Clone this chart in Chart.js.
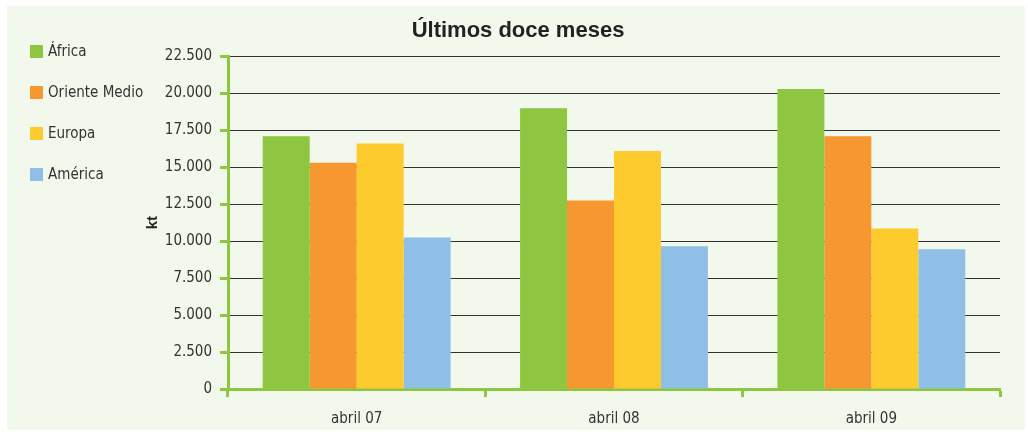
<!DOCTYPE html>
<html>
<head>
<meta charset="utf-8">
<script src="https://cdn.jsdelivr.net/npm/chart.js@4.4.0/dist/chart.umd.min.js"></script>
<style>
    body { margin: 0; background: #fff; }
    #wrap { width: 1028px; height: 432px; }
</style>
</head>
<body>
<div id="wrap"><canvas id="myChart" width="1028" height="432"></canvas></div>
<script>
// valores (kt)
var categorias = ['abril 07', 'abril 08', 'abril 09'];
var series = ['África', 'Oriente Medio', 'Europa', 'América'];
var africa = [17100, 19000, 20300];
var orienteMedio = [15300, 12750, 17100];
var europa = [16600, 16100, 10850];
var america = [10250, 9650, 9450];
var colores = ['#8ec641', '#f7972f', '#fecb2f', '#8fbfe7'];
var yMin = 0, yMax = 22500, yPaso = 2500;

var fuente = "'Liberation Sans Narrow', 'DejaVu Sans Condensed', sans-serif";
var verde = '#8dc63f';

// fondo del panel
const panel = {
    id: 'panel',
    beforeDraw: function (chart) {
        var c = chart.ctx;
        c.save();
        c.fillStyle = '#f3f8ec';
        c.fillRect(7, 6, 1018, 424);
        c.restore();
    }
};

// leyenda a la izquierda
const leyenda = {
    id: 'leyenda',
    afterDraw: function (chart) {
        var c = chart.ctx;
        c.save();
        c.font = '15px ' + fuente;
        c.textBaseline = 'middle';
        chart.data.datasets.forEach(function (ds, i) {
            var y = 45 + i * 41;
            c.fillStyle = ds.backgroundColor;
            c.fillRect(30, y, 13, 13);
            c.fillStyle = '#333';
            c.fillText(ds.label, 48, y + 7);
        });
        c.restore();
    }
};

var valores = [africa, orienteMedio, europa, america];
var datasets = series.map(function (nombre, i) {
    return {
        label: nombre,
        data: valores[i],
        backgroundColor: colores[i],
        borderWidth: 0,
        categoryPercentage: 0.73,
        barPercentage: 1
    };
});

var ctx = document.getElementById('myChart').getContext('2d');
var myChart = new Chart(ctx, {
    type: 'bar',
    data: {
        labels: categorias,
        datasets: datasets
    },
    plugins: [panel, leyenda],
    options: {
        responsive: false,
        animation: false,
        layout: {
            padding: {left: 36, right: 28, top: 0, bottom: 5}
        },
        plugins: {
            legend: {display: false},
            tooltip: {enabled: false},
            title: {
                display: true,
                text: 'Últimos doce meses',
                color: '#222',
                font: {family: "'Liberation Sans', Arial, sans-serif", size: 22, weight: 'bold'},
                padding: {top: 18, bottom: 12}
            }
        },
        scales: {
            x: {
                afterFit: function (scale) {
                    scale.height = 38;
                },
                grid: {
                    drawOnChartArea: false,
                    drawTicks: true,
                    tickLength: 8,
                    tickColor: verde,
                    tickWidth: 3
                },
                border: {color: verde, width: 3},
                ticks: {
                    color: '#333',
                    padding: 13,
                    font: {family: fuente, size: 15}
                }
            },
            y: {
                min: yMin,
                max: yMax,
                afterFit: function (scale) {
                    scale.width = 192;
                },
                grid: {
                    color: '#333',
                    lineWidth: 1,
                    tickLength: 8,
                    tickColor: verde,
                    tickWidth: 3
                },
                border: {color: verde, width: 3},
                ticks: {
                    stepSize: yPaso,
                    color: '#333',
                    padding: 8,
                    font: {family: fuente, size: 15},
                    callback: function (v) {
                        return v.toLocaleString('de-DE');
                    }
                },
                title: {
                    display: true,
                    text: 'kt',
                    color: '#222',
                    font: {family: "'Liberation Sans', Arial, sans-serif", size: 15, weight: 'bold'},
                    padding: {top: 108, bottom: 0}
                }
            }
        }
    }
});
</script>
</body>
</html>
